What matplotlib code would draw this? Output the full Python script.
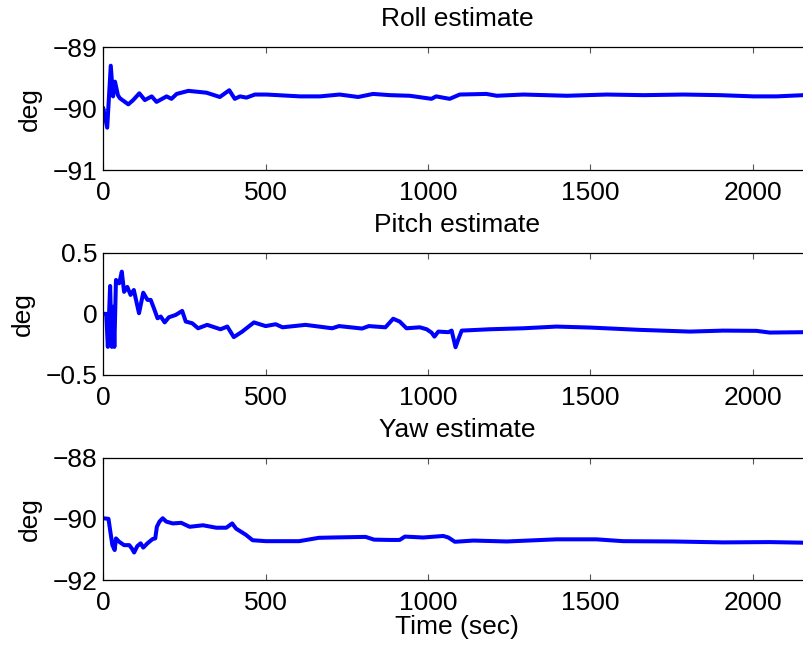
import matplotlib
matplotlib.use("Agg")
import matplotlib.pyplot as plt
import numpy as np

plt.rcParams['font.family'] = ['Liberation Sans', 'DejaVu Sans']

# ---------------- data (time in sec, values in deg) ----------------
roll_t = [0, 12, 23, 30, 36, 45, 51, 77, 92, 111, 128, 149, 164, 195, 210, 226,
          262, 318, 359, 388, 405, 421, 441, 467, 503, 606, 667, 728, 785, 831,
          883, 944, 1011, 1025, 1067, 1098, 1180, 1212, 1294, 1428, 1551, 1664,
          1787, 1900, 2003, 2074, 2157, 2180]
roll_v = [-90.0, -90.31, -89.30, -89.80, -89.56, -89.78, -89.83, -89.93, -89.86,
          -89.75, -89.86, -89.80, -89.89, -89.80, -89.84, -89.76, -89.71, -89.74,
          -89.81, -89.70, -89.84, -89.80, -89.82, -89.77, -89.77, -89.80, -89.80,
          -89.77, -89.81, -89.76, -89.78, -89.79, -89.84, -89.80, -89.84, -89.77,
          -89.76, -89.79, -89.77, -89.79, -89.77, -89.78, -89.77, -89.78, -89.80,
          -89.80, -89.78, -89.78]

pitch_t = [0, 9, 14, 21, 26, 31, 34, 39, 49, 57, 64, 74, 84, 94, 110, 123, 136,
           146, 156, 167, 177, 189, 202, 223, 243, 254, 274, 292, 320, 361, 382,
           402, 428, 464, 500, 531, 552, 623, 705, 726, 797, 818, 869, 893, 913,
           934, 975, 996, 1011, 1020, 1032, 1063, 1073, 1085, 1093, 1104, 1191,
           1294, 1396, 1499, 1653, 1807, 1910, 2012, 2053, 2157, 2180]
pitch_v = [0.0, 0.0, -0.27, 0.228, -0.27, 0.058, -0.27, 0.277, 0.25, 0.345, 0.18,
           0.22, 0.155, 0.195, 0.005, 0.173, 0.114, 0.114, 0.045, -0.036, -0.022,
           -0.07, -0.028, -0.009, 0.024, -0.063, -0.077, -0.118, -0.09, -0.126,
           -0.104, -0.19, -0.145, -0.07, -0.10, -0.085, -0.11, -0.09, -0.118,
           -0.10, -0.12, -0.10, -0.11, -0.04, -0.063, -0.118, -0.11, -0.126,
           -0.153, -0.186, -0.145, -0.15, -0.137, -0.273, -0.213, -0.137, -0.126,
           -0.118, -0.104, -0.112, -0.131, -0.145, -0.137, -0.139, -0.153, -0.15,
           -0.15]

yaw_t = [0, 16, 21, 28, 35, 39, 49, 64, 80, 88, 95, 105, 115, 123, 136, 152, 160,
         165, 173, 183, 194, 214, 240, 266, 307, 348, 379, 397, 409, 439, 460,
         501, 603, 664, 705, 808, 834, 883, 913, 929, 985, 1047, 1063, 1083,
         1140, 1243, 1396, 1519, 1601, 1755, 1910, 2053, 2157, 2180]
yaw_v = [-89.98, -90.0, -90.37, -90.86, -91.02, -90.64, -90.75, -90.86, -90.86,
         -90.97, -91.10, -90.89, -90.80, -90.94, -90.80, -90.66, -90.64, -90.26,
         -90.09, -89.98, -90.09, -90.15, -90.13, -90.26, -90.21, -90.29, -90.29,
         -90.15, -90.32, -90.52, -90.70, -90.73, -90.73, -90.62, -90.61, -90.59,
         -90.68, -90.69, -90.69, -90.58, -90.61, -90.56, -90.61, -90.75, -90.71,
         -90.74, -90.67, -90.67, -90.73, -90.74, -90.77, -90.76, -90.78, -90.78]

titles = ["Roll estimate", "Pitch estimate", "Yaw estimate"]
ylims = [(-91, -89), (-0.5, 0.5), (-92, -88)]
yticks = [[-91, -90, -89], [-0.5, 0, 0.5], [-92, -90, -88]]
ytick_labels = [["\u221291", "\u221290", "\u221289"],
                ["\u22120.5", "0", "0.5"],
                ["\u221292", "\u221290", "\u221288"]]
xticks = [0, 500, 1000, 1500, 2000]
xtick_labels = ["0", "500", "1000", "1500", "2000"]
xlim = (0, 2180)

series = [(roll_t, roll_v), (pitch_t, pitch_v), (yaw_t, yaw_v)]

# ---------------- figure ----------------
W, H = 804, 645
fig = plt.figure(figsize=(W / 100, H / 100), dpi=100)

left_px, right_px = 103.3, 811.0
axes_px = [(47.3, 170.0), (252.7, 375.0), (457.7, 580.0)]
FS = 19

for i, ((top, bot), (t, v)) in enumerate(zip(axes_px, series)):
    ax = fig.add_axes([left_px / W, 1 - bot / H, (right_px - left_px) / W, (bot - top) / H])
    ax.plot(t, v, color=(0, 0, 1), lw=2.9, solid_joinstyle='round')
    ax.set_xlim(*xlim)
    ax.set_ylim(*ylims[i])
    ax.set_xticks(xticks)
    ax.set_xticklabels(xtick_labels)
    ax.set_yticks(yticks[i])
    ax.set_yticklabels(ytick_labels[i])
    ax.tick_params(direction='in', length=4.5, width=0.8, colors='#555555',
                   labelcolor='black', labelsize=FS, top=True, right=True)
    ax.tick_params(axis='x', pad=8)
    ax.tick_params(axis='y', pad=4)
    for s in ax.spines.values():
        s.set_linewidth(0.9)
        s.set_color('black')
    ax.set_title(titles[i], fontsize=FS, pad=15)
    ax.set_ylabel("deg", fontsize=FS, labelpad=8)
    if i == 2:
        ax.set_xlabel("Time (sec)", fontsize=FS, labelpad=0)

fig.savefig("out.png", dpi=100)
